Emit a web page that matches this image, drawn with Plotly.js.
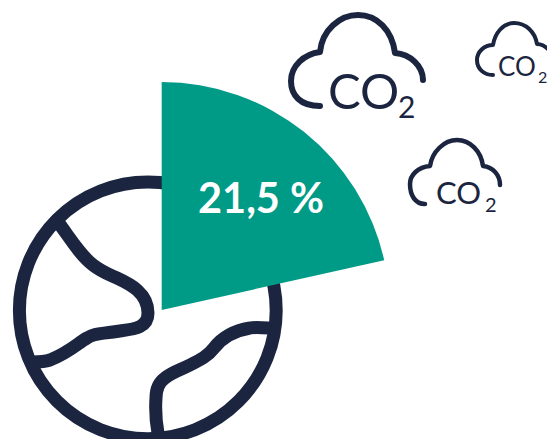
<!DOCTYPE html>
<html>
<head>
<meta charset="utf-8">
<script src="https://cdn.plot.ly/plotly-3.0.1.min.js"></script>
<style>
  html, body { margin: 0; padding: 0; background: #fff; overflow: hidden; width: 547px; height: 439px; }
  #chart { position: absolute; left: -70px; top: 0; width: 620px; height: 540px; }
  /* pictogram strokes end in round caps */
  #chart .shapelayer path { stroke-linecap: round !important; stroke-linejoin: round !important; }
</style>
</head>
<body>
<div id="chart"></div>
<script>
// Share of global CO2 emissions, shown as a single wedge over a globe pictogram.
const categories = ['Part', 'Reste'];
const shareValues = [21.5, 78.5];
const emissionLabel = 'CO';
const emissionSubscript = '2';

const NAVY = '#1B2540';
const TEAL = '#009B86';

// The plot area spills past the left and bottom of the page so the wedge
// can be large; the hidden axes below run in page pixels.
const FRAME = { left: -70, top: 0, width: 620, height: 540 };
const WEDGE = { cx: 161.7, cy: 310, r: 228 };

function stroke(path, width) {
  return { type: 'path', xref: 'x', yref: 'y', layer: 'below', path: path,
           line: { color: NAVY, width: width }, fillcolor: 'rgba(0,0,0,0)' };
}

const pictograms = [
  // globe outline
  { type: 'circle', xref: 'x', yref: 'y', layer: 'below', x0: 19.4, x1: 276.2, y0: 182, y1: 438.8,
    line: { color: NAVY, width: 13 }, fillcolor: 'rgba(0,0,0,0)' },
  // land masses
  stroke('M58,222 C70,238 80,255 93,265 C102,272 108,274 117,278 C130,284 148,293 148,313 C148,330 130,329 113,332 C100,334 95,333 87,338 C78,343 70,352 50,360 C44,362 38,362 33,362', 13),
  stroke('M273,328 C262,328 255,327 250,328 C238,330 224,335 214,348 C208,356 200,360 190,365 C180,370 172,372 165,378 C158,383 156,390 156,398 C155,412 156,422 158,433', 13),
  // clouds
  stroke('M320,106 C300,106 291,95 291,81 C291,66 304,54 320,52 C322,30 340,15 358,15 C377,15 392,30 395,53 C410,54 423,66 423,80', 6),
  stroke('M425,204 C415,204 410,195 410,184 C410,175 418,167 430,166 C432,152 444,140 457,140 C470,140 481,151 483,166 C493,167 500,175 500,185', 4.5),
  stroke('M493,75 C484,75 477,69 477,60 C477,52 484,45 493,45 C495,33 503,23 514,23 C526,23 535,32 537,44 C541,44 545,46 549,50', 4)
];

function cloudText(text, x, y, size) {
  return { xref: 'x', yref: 'y', x: x, y: y, xanchor: 'left', yanchor: 'middle',
           showarrow: false, text: text, borderpad: 0,
           font: { family: 'Lato, sans-serif', size: size, color: NAVY } };
}

const wedgeLabel = shareValues[0].toFixed(1).replace('.', ',') + ' %';

const pieTrace = {
  type: 'pie',
  labels: categories,
  values: shareValues,
  sort: false,
  direction: 'clockwise',
  rotation: 0,
  showlegend: false,
  hoverinfo: 'skip',
  marker: { colors: [TEAL, 'rgba(0,0,0,0)'], line: { width: 0 } },
  textinfo: 'none',
  domain: {
    x: [(WEDGE.cx - WEDGE.r - FRAME.left) / FRAME.width, (WEDGE.cx + WEDGE.r - FRAME.left) / FRAME.width],
    y: [1 - (WEDGE.cy + WEDGE.r) / FRAME.height, 1 - (WEDGE.cy - WEDGE.r) / FRAME.height]
  }
};

// Keeps the hidden pixel axes alive for the pictogram shapes.
const axisAnchor = { type: 'scatter', x: [0], y: [0], mode: 'none', showlegend: false, hoverinfo: 'skip' };

const layout = {
  width: FRAME.width,
  height: FRAME.height,
  margin: { l: 0, r: 0, t: 0, b: 0, pad: 0 },
  paper_bgcolor: 'rgba(0,0,0,0)',
  plot_bgcolor: 'rgba(0,0,0,0)',
  showlegend: false,
  xaxis: { visible: false, range: [FRAME.left, FRAME.left + FRAME.width], fixedrange: true },
  yaxis: { visible: false, range: [FRAME.height, 0], fixedrange: true },
  shapes: pictograms,
  annotations: [
    { xref: 'x', yref: 'y', x: 260.5, y: 197, xanchor: 'center', yanchor: 'middle', showarrow: false,
      text: wedgeLabel, font: { family: 'Lato, sans-serif', size: 41.5, color: '#ffffff', weight: 700 } },
    cloudText(emissionLabel, 327, 90, 49),
    cloudText(emissionSubscript, 397, 106, 30),
    cloudText(emissionLabel, 435, 192, 31),
    cloudText(emissionSubscript, 484, 204, 20),
    cloudText(emissionLabel, 496.5, 65.5, 26),
    cloudText(emissionSubscript, 537, 76, 16)
  ]
};

Plotly.newPlot('chart', [axisAnchor, pieTrace], layout, { displayModeBar: false, staticPlot: true });
</script>
</body>
</html>
